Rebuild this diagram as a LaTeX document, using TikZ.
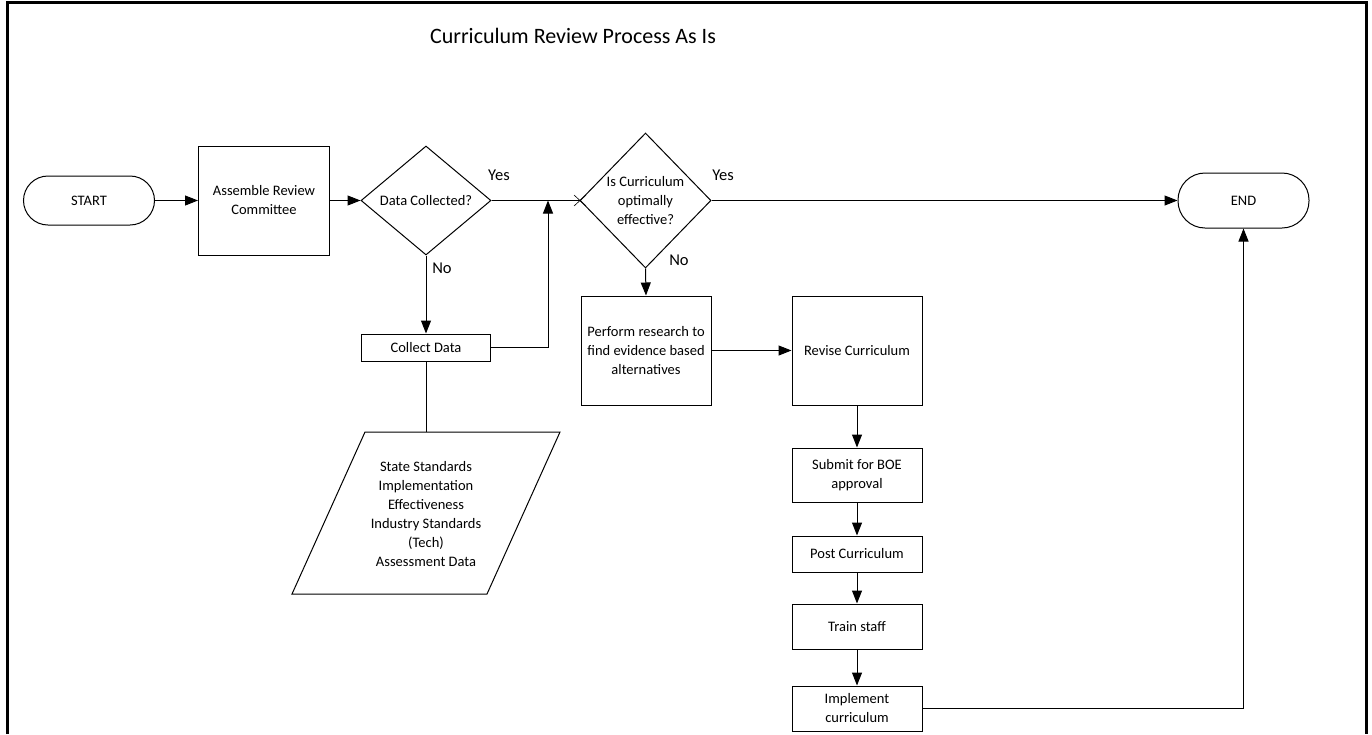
\documentclass[tikz,border=0pt]{standalone}
\usepackage{fontspec}
\setmainfont{Carlito}
\usetikzlibrary{arrows.meta,shapes.geometric}
\begin{document}
\begin{tikzpicture}[x=1pt,y=-1pt,
  every node/.style={font=\fontsize{14.5}{19}\selectfont, align=center, inner sep=0pt},
  box/.style={draw, line width=1pt, rectangle, minimum width=130pt},
  term/.style={draw, line width=1pt, rectangle, minimum width=131pt},
  dec/.style={draw, line width=1pt, diamond},
  arr/.style={line width=1pt, -{Triangle[length=13pt,width=10pt]}},
  ln/.style={line width=1pt},
  lbl/.style={font=\fontsize{16.5}{19}\selectfont}]
\useasboundingbox (0,0) rectangle (1372,734);
% frame (open at the bottom)
\draw[line width=3pt] (7,734) -- (7,2) -- (1366.5,2) -- (1366.5,734);
% title
\node[font=\fontsize{22}{26}\selectfont] (title) at (573,36) {Curriculum Review Process As Is};
% main row
\node[term, rounded corners=24.5pt, minimum height=49pt] (start) at (89,200.5) {START};
\node[box, minimum width=131pt, minimum height=109pt] (assemble) at (264,200.5) {Assemble Review\\Committee};
\node[dec, minimum width=130pt, minimum height=109pt,
      label={[align=center]center:Data Collected?}] (datac) at (426,200.5) {};
\node[dec, minimum width=131pt, minimum height=135pt,
      label={[align=center]center:Is Curriculum\\optimally\\effective?}] (iscurr) at (645.5,200.5) {};
\node[term, rounded corners=27pt, minimum height=55pt] (end) at (1243.5,200.5) {END};
% data branch
\node[box, minimum width=129pt, minimum height=27pt] (collect) at (426,347.5) {Collect Data};
\draw[line width=1pt] (365,432) -- (560,432) -- (487,594) -- (292,594) -- cycle;
\node (sources) at (426,514) {State Standards\\Implementation\\Effectiveness\\Industry Standards\\(Tech)\\Assessment Data};
\coordinate (ptop) at (426,432);
\coordinate (join) at (548,200.5);
% improvement branch
\node[box, minimum height=109pt] (research) at (646,350.5) {Perform research to\\find evidence based\\alternatives};
\node[box, minimum height=109pt] (revise) at (857,350.5) {Revise Curriculum};
\node[box, minimum height=54pt] (submit) at (857,475) {Submit for BOE\\approval};
\node[box, minimum height=36pt] (post) at (857,554) {Post Curriculum};
\node[box, minimum height=45pt] (train) at (857,626.5) {Train staff};
\node[box, minimum height=45pt] (implement) at (857,708.5) {Implement\\curriculum};
% labels
\node[lbl] (yes1) at (499,175) {Yes};
\node[lbl] (yes2) at (723,175) {Yes};
\node[lbl] (no1) at (442,268) {No};
\node[lbl] (no2) at (679,260) {No};
% connectors
\draw[arr] (start) -- (assemble);
\draw[arr] (assemble) -- (datac);
\draw[ln] (datac.east) -- (iscurr.west);
\draw[line width=0.6pt] (574,195) -- (586,206) (574,206) -- (586,195);
\draw[arr] (iscurr.east) -- (end.west);
\draw[arr] (datac.south) -- (collect.north);
\draw[arr] (collect.east) -| (join);
\draw[ln] (collect.south) -- (ptop);
\draw[arr] (iscurr.south) -- (research.north);
\draw[arr] (research) -- (revise);
\draw[arr] (revise) -- (submit);
\draw[arr] (submit) -- (post);
\draw[arr] (post) -- (train);
\draw[arr] (train) -- (implement);
\draw[arr] (implement.east) -| (end.south);
\end{tikzpicture}
\end{document}
